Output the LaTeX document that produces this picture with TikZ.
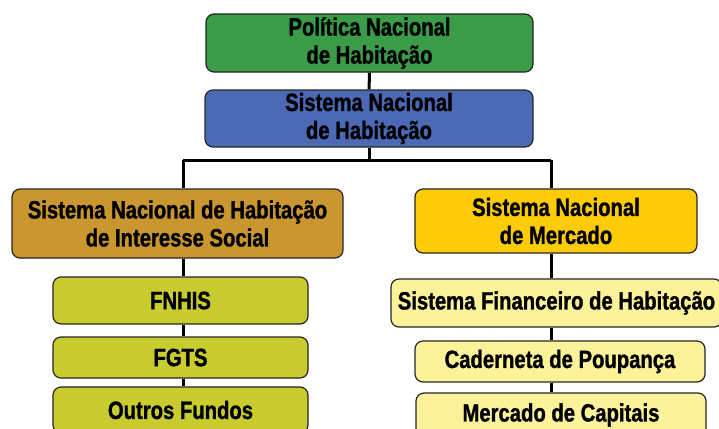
\documentclass[tikz,border=0pt]{standalone}
\usepackage{fontspec}
\newfontfamily\boxfont{Liberation Sans}[FakeStretch=0.81,FakeBold=1.2]
\definecolor{pnhgreen}{HTML}{3A9B48}
\definecolor{snhblue}{HTML}{4B69B4}
\definecolor{hisbrown}{HTML}{C9962F}
\definecolor{fundgreen}{HTML}{C9CC2E}
\definecolor{mktgold}{HTML}{FECB08}
\definecolor{mktpale}{HTML}{FBF29A}
\tikzset{
  box/.style={draw=black!85,line width=1.2pt,rounded corners=8pt,align=center,
    inner sep=0pt,font=\boxfont\bfseries\fontsize{25}{28}\selectfont},
  link/.style={line width=3pt,black}
}

\begin{document}
\begin{tikzpicture}[x=1pt,y=1pt]
\useasboundingbox (0,0) rectangle (719,-428);
\clip (0,0) rectangle (719,-428);
\fill[white] (0,0) rectangle (719,-428);
% top of the tree
\node[box,fill=pnhgreen,minimum width=327,minimum height=58] (pnh) at (369.5,-43) {Política Nacional\\de Habitação};
\node[box,fill=snhblue,minimum width=328,minimum height=57] (snh) at (369,-118.5) {Sistema Nacional\\de Habitação};
\coordinate (lj) at (183,-160);
\coordinate (rj) at (551,-160);
% interesse social
\node[box,fill=hisbrown,minimum width=331,minimum height=69] (snhis) at (177.5,-223.5) {Sistema Nacional de Habitação\\de Interesse Social};
\node[box,fill=fundgreen,minimum width=255,minimum height=47] (fnhis) at (180.5,-300.5) {FNHIS};
\node[box,fill=fundgreen,minimum width=255,minimum height=41] (fgts) at (180.5,-357.5) {FGTS};
\node[box,fill=fundgreen,minimum width=255,minimum height=46] (outros) at (180.5,-410) {Outros Fundos};
% mercado
\node[box,fill=mktgold,minimum width=282,minimum height=64] (snm) at (556,-221) {Sistema Nacional\\de Mercado};
\node[box,fill=mktpale,minimum width=331,minimum height=48] (sfh) at (556.5,-303) {Sistema Financeiro de Habitação};
\node[box,fill=mktpale,minimum width=290,minimum height=41] (cad) at (560,-361.5) {Caderneta de Poupança};
\node[box,fill=mktpale,minimum width=290,minimum height=44] (mc) at (561,-415) {Mercado de Capitais};
% connectors
\draw[link] (pnh) -- (snh);
\draw[link] (snh) -- (snh |- lj);
\draw[link] (lj) -- (rj);
\draw[link] (lj) -- (lj |- snhis.north);
\draw[link] (rj) -- (rj |- snm.north);
\draw[link] (lj |- snhis.south) -- (lj |- fnhis.north);
\draw[link] (lj |- fnhis.south) -- (lj |- fgts.north);
\draw[link] (lj |- fgts.south) -- (lj |- outros.north);
\draw[link] (rj |- snm.south) -- (rj |- sfh.north);
\draw[link] (rj |- sfh.south) -- (rj |- cad.north);
\draw[link] (rj |- cad.south) -- (rj |- mc.north);
\end{tikzpicture}
\end{document}
